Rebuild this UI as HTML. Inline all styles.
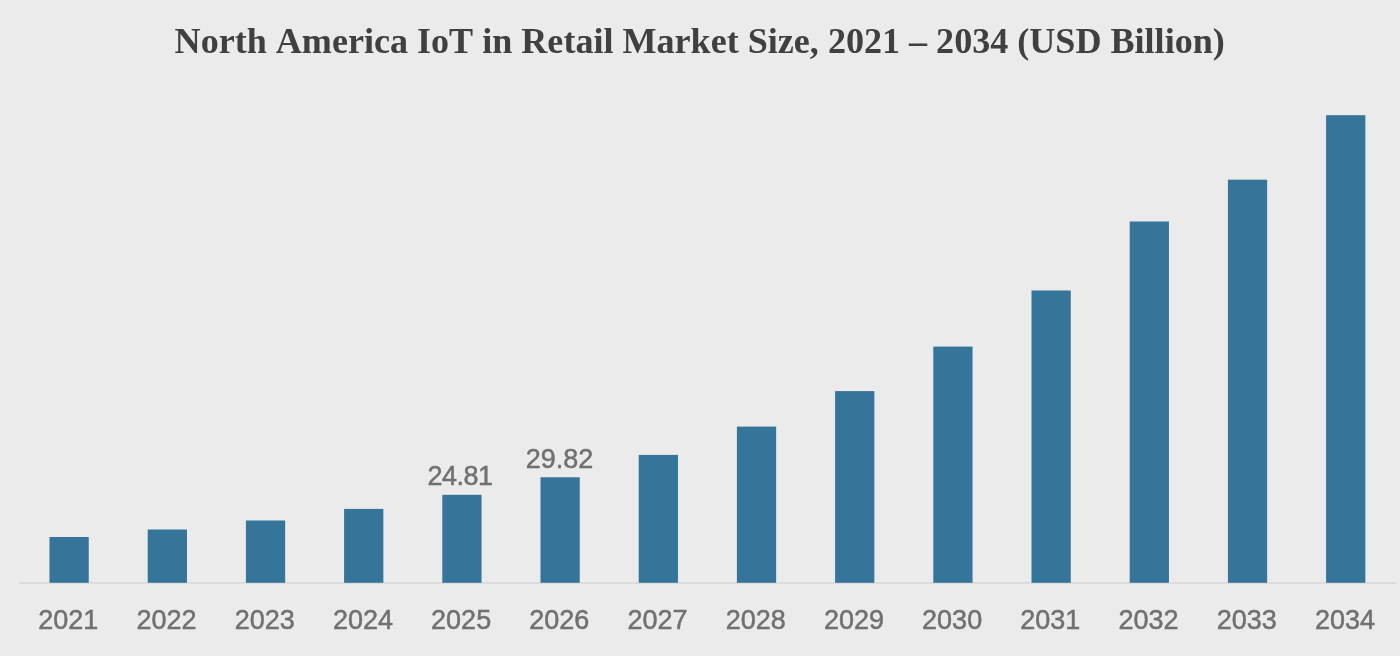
<!DOCTYPE html>
<html><head><meta charset="utf-8"><title>North America IoT in Retail Market Size</title>
<style>
html,body{margin:0;padding:0;background:#ebebeb;}
body{width:1400px;height:656px;overflow:hidden;position:relative;}
svg{position:absolute;left:0;top:0;display:block;}
.title{font-family:"Liberation Serif","Times New Roman",serif;font-weight:bold;font-size:36.08px;font-kerning:none;fill:#404040;}
.lab text{font-family:"Liberation Sans",Arial,Helvetica,sans-serif;font-size:27px;fill:#707070;stroke:#707070;stroke-width:0.5px;text-anchor:middle;}
.bars rect{fill:#34759a;}
</style></head><body>
<svg width="1400" height="656" viewBox="0 0 1400 656">
<defs><filter id="soft" x="-2%" y="-2%" width="104%" height="104%"><feGaussianBlur stdDeviation="0.4"/></filter></defs>
<rect x="0" y="0" width="1400" height="656" fill="#ebebeb"/>
<text class="title" filter="url(#soft)" x="174.6" y="53" textLength="1050.2" lengthAdjust="spacingAndGlyphs">North America IoT in Retail Market Size, 2021 – 2034 (USD Billion)</text>
<rect x="19.2" y="582.4" width="1377" height="1.2" fill="#d3d3d3"/>
<g class="bars" filter="url(#soft)">
<rect x="49.50" y="537.00" width="39.25" height="45.80"/>
<rect x="147.70" y="529.50" width="39.25" height="53.30"/>
<rect x="245.90" y="520.50" width="39.25" height="62.30"/>
<rect x="344.10" y="508.90" width="39.25" height="73.90"/>
<rect x="442.30" y="494.80" width="39.25" height="88.00"/>
<rect x="540.50" y="477.25" width="39.25" height="105.55"/>
<rect x="638.70" y="454.90" width="39.25" height="127.90"/>
<rect x="736.90" y="426.60" width="39.25" height="156.20"/>
<rect x="835.10" y="391.10" width="39.25" height="191.70"/>
<rect x="933.30" y="346.60" width="39.25" height="236.20"/>
<rect x="1031.50" y="290.50" width="39.25" height="292.30"/>
<rect x="1129.70" y="221.50" width="39.25" height="361.30"/>
<rect x="1227.90" y="179.70" width="39.25" height="403.10"/>
<rect x="1326.10" y="115.20" width="39.25" height="467.60"/>
</g>
<g class="lab" filter="url(#soft)">
<text x="68.33" y="628.6">2021</text>
<text x="166.52" y="628.6">2022</text>
<text x="264.72" y="628.6">2023</text>
<text x="362.93" y="628.6">2024</text>
<text x="461.12" y="628.6">2025</text>
<text x="559.33" y="628.6">2026</text>
<text x="657.53" y="628.6">2027</text>
<text x="755.73" y="628.6">2028</text>
<text x="853.93" y="628.6">2029</text>
<text x="952.13" y="628.6">2030</text>
<text x="1050.33" y="628.6">2031</text>
<text x="1148.53" y="628.6">2032</text>
<text x="1246.73" y="628.6">2033</text>
<text x="1344.93" y="628.6">2034</text>
<text x="460.3" y="484.9" textLength="65.4" lengthAdjust="spacing">24.81</text>
<text x="559.6" y="467.8">29.82</text>
</g>
</svg>
</body></html>
